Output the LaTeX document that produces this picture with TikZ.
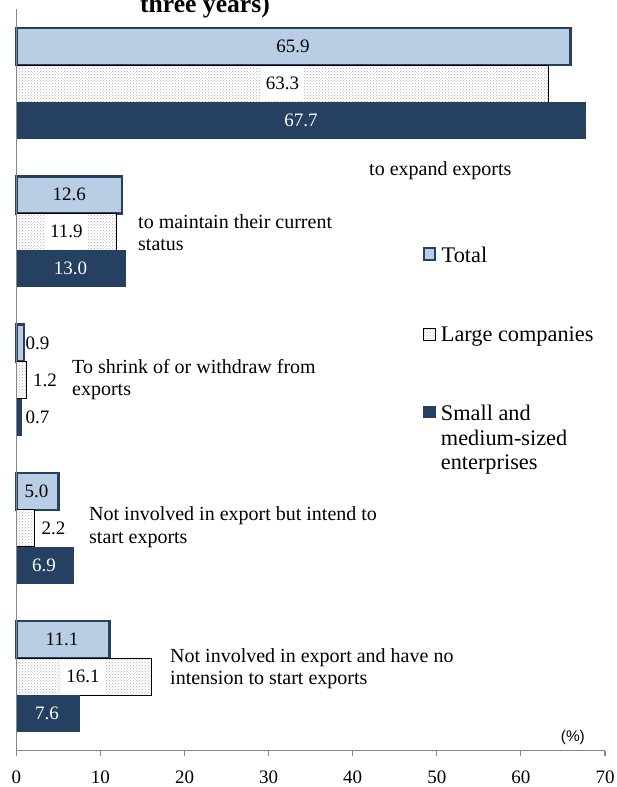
\documentclass[tikz,border=0pt]{standalone}
\usepackage{fontspec}
\setmainfont{Liberation Serif}
\newfontfamily\axsans{Liberation Sans}
\usetikzlibrary{patterns}
\definecolor{navy}{HTML}{254061}
\definecolor{ltblue}{HTML}{B9CDE5}
\definecolor{axgray}{HTML}{868686}
\def\xz{16.3}
\def\sc{8.41}
\newcommand\mybar[4]{\path[#1] (\xz,{28+148.3*#2+37*#3}) rectangle ({\xz+\sc*#4},{28+148.3*#2+37*(#3+1)});}
\tikzset{
  totbar/.style={fill=ltblue,draw=navy,line width=2.4pt},
  lrgbar/.style={preaction={fill=white},pattern=crosshatch dots,pattern color=gray!60,draw=black,line width=1pt},
  smebar/.style={fill=navy},
  val/.style={inner sep=0pt,font=\fontsize{19}{22}\selectfont},
  valw/.style={val,text=white},
  valbox/.style={val,fill=white,inner xsep=5pt,minimum height=34pt},
  cat/.style={anchor=base west,inner sep=0pt,font=\fontsize{20}{22}\selectfont},
  leg/.style={anchor=base west,inner sep=0pt,font=\fontsize{22.3}{25}\selectfont},
  tick/.style={anchor=base,inner sep=0pt,font=\fontsize{19}{22}\selectfont},
}
\begin{document}
\begin{tikzpicture}[x=1pt,y=-1pt]
\clip (0,0) rectangle (616,787);
\fill[white] (0,0) rectangle (616,787);
% title (cut off at the top, as in the source)
\node[anchor=base west,inner sep=0pt,font=\bfseries\fontsize{25.6}{28}\selectfont] (title) at (140,12.5) {three years)};
% bars
\mybar{totbar}{0}{0}{65.9}
\mybar{lrgbar}{0}{1}{63.3}
\mybar{smebar}{0}{2}{67.7}
\mybar{totbar}{1}{0}{12.6}
\mybar{lrgbar}{1}{1}{11.9}
\mybar{smebar}{1}{2}{13.0}
\mybar{totbar}{2}{0}{0.9}
\mybar{lrgbar}{2}{1}{1.2}
\mybar{smebar}{2}{2}{0.7}
\mybar{totbar}{3}{0}{5.0}
\mybar{lrgbar}{3}{1}{2.2}
\mybar{smebar}{3}{2}{6.9}
\mybar{totbar}{4}{0}{11.1}
\mybar{lrgbar}{4}{1}{16.1}
\mybar{smebar}{4}{2}{7.6}
% value labels
\node[val]   (v1a) at (293,46.5) {65.9};
\node[valbox](v1b) at (282.5,83.5) {63.3};
\node[valw]  (v1c) at (301,120.5) {67.7};
\node[val]   (v2a) at (69.3,194.8) {12.6};
\node[valbox](v2b) at (66.3,231.8) {11.9};
\node[valw]  (v2c) at (70.5,268.8) {13.0};
\node[val,anchor=west] (v3a) at (25.5,343.1) {0.9};
\node[val,anchor=west] (v3b) at (33,380.1) {1.2};
\node[val,anchor=west] (v3c) at (25.5,417.1) {0.7};
\node[val]   (v4a) at (36.5,491.4) {5.0};
\node[val,anchor=west] (v4b) at (41.5,528.4) {2.2};
\node[valw]  (v4c) at (44,565.4) {6.9};
\node[val]   (v5a) at (62,639.7) {11.1};
\node[valbox](v5b) at (83,676.7) {16.1};
\node[valw]  (v5c) at (47,713.7) {7.6};
% category labels
\node[cat] (c1) at (369,175) {to expand exports};
\node[cat] (c2a) at (138,228.3) {to maintain their current};
\node[cat] (c2b) at (138,250.7) {status};
\node[cat] (c3a) at (72,373) {To shrink of or withdraw from};
\node[cat] (c3b) at (72,395.4) {exports};
\node[cat] (c4a) at (89,520.7) {Not involved in export but intend to};
\node[cat] (c4b) at (89,543.1) {start exports};
\node[cat] (c5a) at (170,662.3) {Not involved in export and have no};
\node[cat] (c5b) at (170,684.7) {intension to start exports};
% legend
\path[fill=ltblue,draw=navy,line width=2pt] (423.5,247.5) rectangle (435,259.5);
\path[preaction={fill=white},pattern=crosshatch dots,pattern color=gray!60,draw=black,line width=0.9pt] (423.5,328.5) rectangle (435,340);
\path[fill=navy] (423,406) rectangle (435.5,418);
\node[leg] (l1) at (441.5,262.3) {Total};
\node[leg] (l2) at (440.7,341.7) {Large companies};
\node[leg] (l3a) at (440.7,420.7) {Small and};
\node[leg] (l3b) at (440.7,445.3) {medium-sized};
\node[leg] (l3c) at (440.7,469.9) {enterprises};
% axes
\draw[axgray,line width=1.1pt] (\xz,9.3) -- (\xz,750.7) -- ({\xz+\sc*70},750.7);
\foreach \k in {0,...,7}{
  \draw[axgray,line width=1.1pt] ({\xz+84.1*\k},750.7) -- ++(0,5.5);
  \node[tick] (t\k) at ({\xz+84.1*\k},783) {\pgfmathparse{int(10*\k)}\pgfmathresult};
}
\node[anchor=base west,inner sep=0pt,font=\axsans\fontsize{15.4}{18}\selectfont] (pct) at (560.7,741.5) {(\%)};
\end{tikzpicture}
\end{document}
